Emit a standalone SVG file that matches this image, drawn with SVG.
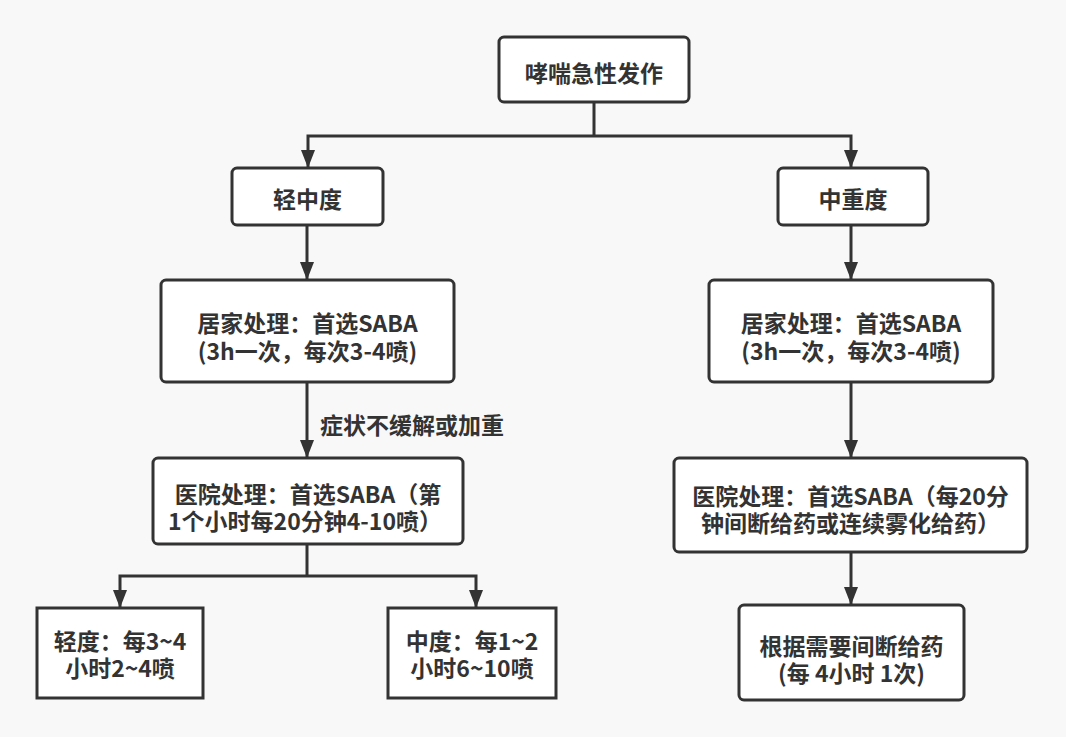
<svg xmlns="http://www.w3.org/2000/svg" width="1066" height="737" viewBox="0 0 1066 737">
<defs>
<style>
.box{fill:#ffffff;stroke:#333333;stroke-width:3}
.t{font-family:"Noto Sans CJK SC","Microsoft YaHei",sans-serif;font-size:23px;font-weight:bold;fill:#333333;text-anchor:middle;dominant-baseline:central}
.lbl{text-anchor:start}
.c{fill:none;stroke:#333333;stroke-width:3;marker-end:url(#ah)}
.cn{fill:none;stroke:#333333;stroke-width:3}
</style>
<marker id="ah" viewBox="0 0 18 14" refX="17" refY="7" markerWidth="18" markerHeight="14" markerUnits="userSpaceOnUse" orient="auto">
<path d="M0,0 L18,7 L0,14 z" fill="#333333"/>
</marker>
</defs>
<rect width="1066" height="737" fill="#f8f8f8"/>
<g id="connectors">
<path class="cn" d="M594,102 V136"/>
<path class="c" d="M594,136 H308 V167"/>
<path class="c" d="M594,136 H851 V167"/>
<path class="c" d="M307,225 V279"/>
<path class="c" d="M307,382 V457"/>
<text class="t lbl" x="320" y="424">症状不缓解或加重</text>
<path class="cn" d="M307,544 V576"/>
<path class="c" d="M307,576 H120 V607"/>
<path class="c" d="M307,576 H476 V607"/>
<path class="c" d="M851,225 V279"/>
<path class="c" d="M851,382 V457"/>
<path class="c" d="M851,552 V604"/>
</g>
<g id="n-start">
<rect class="box" x="499" y="37" width="190" height="65" rx="5"/>
<text class="t" x="594" y="72">哮喘急性发作</text>
</g>
<g id="n-mild-moderate">
<rect class="box" x="232" y="168" width="151" height="57" rx="5"/>
<text class="t" x="307.5" y="198">轻中度</text>
</g>
<g id="n-moderate-severe">
<rect class="box" x="778" y="168" width="150" height="57" rx="5"/>
<text class="t" x="853" y="198">中重度</text>
</g>
<g id="n-home-left">
<rect class="box" x="161" y="280" width="293" height="102" rx="5"/>
<text class="t" x="307.5" y="322">居家处理：首选SABA</text>
<text class="t" x="307.5" y="350">(3h一次，每次3-4喷)</text>
</g>
<g id="n-home-right">
<rect class="box" x="709" y="280" width="284" height="102" rx="5"/>
<text class="t" x="851" y="322">居家处理：首选SABA</text>
<text class="t" x="851" y="350">(3h一次，每次3-4喷)</text>
</g>
<g id="n-hospital-left">
<rect class="box" x="153" y="458" width="310" height="86" rx="5"/>
<text class="t" x="308" y="493">医院处理：首选SABA（第</text>
<text class="t" x="305" y="520">1个小时每20分钟4-10喷）</text>
</g>
<g id="n-hospital-right">
<rect class="box" x="674" y="458" width="353" height="94" rx="5"/>
<text class="t" x="850.5" y="495">医院处理：首选SABA（每20分</text>
<text class="t" x="850.5" y="522">钟间断给药或连续雾化给药）</text>
</g>
<g id="n-mild">
<rect class="box" x="37" y="608" width="166" height="90"/>
<text class="t" x="120" y="640">轻度：每3~4</text>
<text class="t" x="120" y="667">小时2~4喷</text>
</g>
<g id="n-moderate">
<rect class="box" x="388" y="608" width="168" height="90"/>
<text class="t" x="472" y="640">中度：每1~2</text>
<text class="t" x="472" y="667">小时6~10喷</text>
</g>
<g id="n-intermittent">
<rect class="box" x="739" y="605" width="225" height="95" rx="5"/>
<text class="t" x="851.5" y="645">根据需要间断给药</text>
<text class="t" x="851.5" y="672">(每 4小时 1次)</text>
</g>
</svg>
